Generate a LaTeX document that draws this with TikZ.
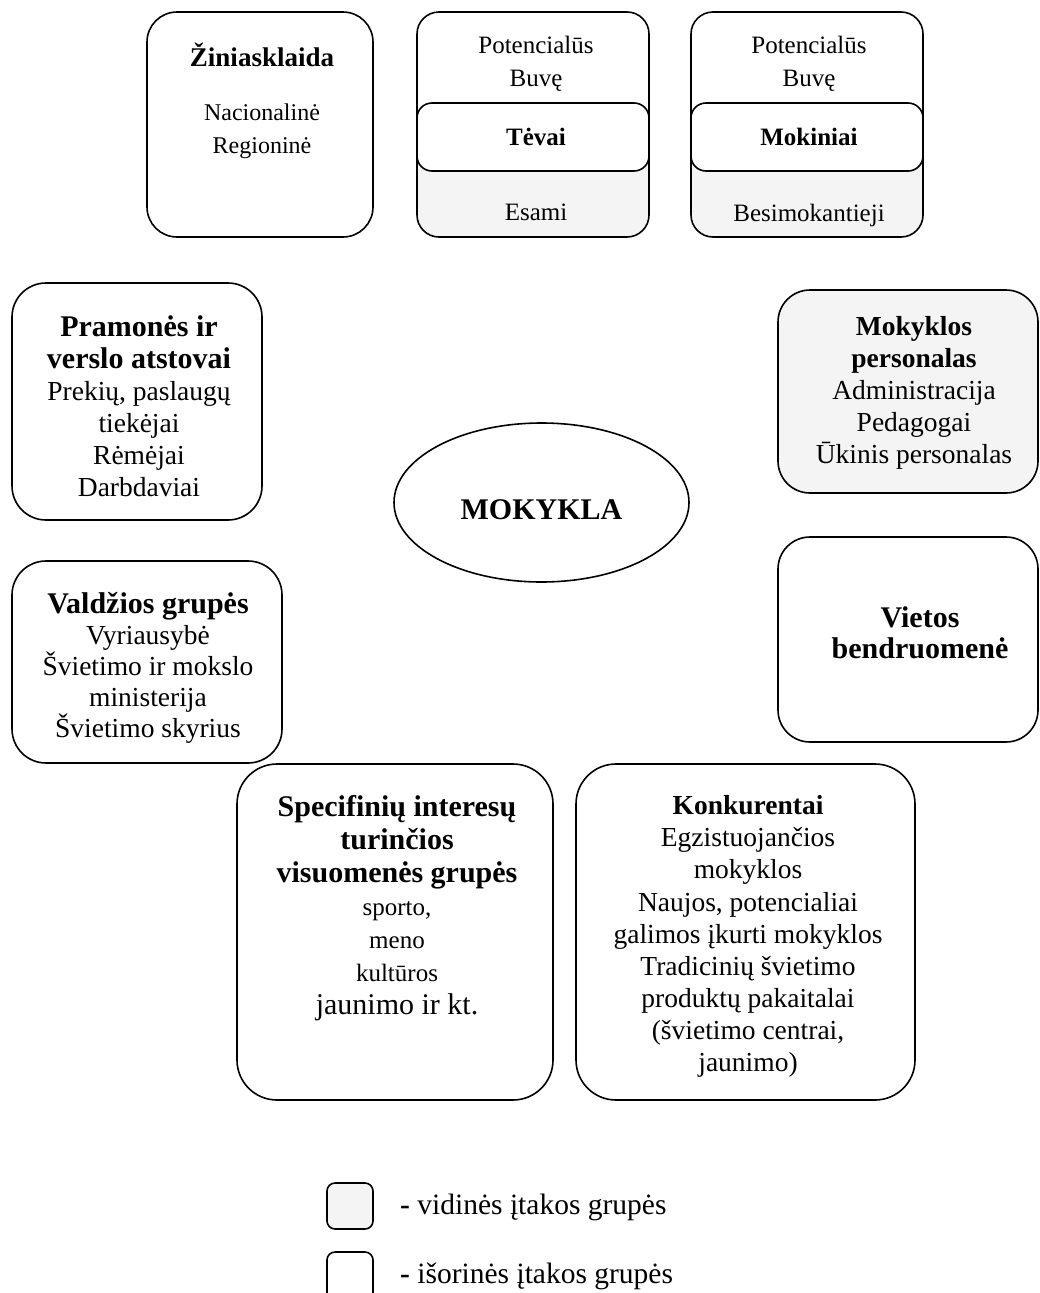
\documentclass[tikz,border=0pt]{standalone}
\usepackage{fontspec}
\setmainfont{Liberation Serif}
\usetikzlibrary{shapes.geometric}
\setlength{\lineskiplimit}{-100pt}
\newcommand\szf[2]{\fontsize{#1}{#2}\selectfont}
\definecolor{innerfill}{RGB}{244,244,244}

\begin{document}
\begin{tikzpicture}[x=1pt,y=-1pt,
  box/.style={draw, line width=1.6pt, rectangle, inner sep=0pt, outer sep=0pt},
  ingroup/.style={box, fill=innerfill},
  lbl/.style={align=center, inner sep=0pt, font=\szf{27.5}{32}}]
\useasboundingbox (0,0) rectangle (1039,1293);
\clip (0,0) rectangle (1039,1293);

% --- media
\node[box, minimum width=226pt, minimum height=225pt, rounded corners=30pt] (media) at (260,124.5) {};
\node[lbl, font=\szf{27}{32}] (mediaTitle) at (262,55) {\bfseries Žiniasklaida};
\node[lbl, font=\szf{24}{33}] (mediaBody) at (262,131.5) {Nacionalinė\\Regioninė};

% --- parents (white upper part, grey lower part)
\fill[innerfill, rounded corners=22pt] (417,12) rectangle (649,237);
\begin{scope}
  \clip (417,12) rectangle (649,137);
  \fill[white, rounded corners=22pt] (417,12) rectangle (649,237);
\end{scope}
\node[box, fill=white, minimum width=232pt, minimum height=68pt, rounded corners=15pt] (parentsMid) at (533,137) {};
\node[box, minimum width=232pt, minimum height=225pt, rounded corners=22pt] (parents) at (533,124.5) {};
\node[lbl, font=\szf{25}{33}] (parentsTop) at (536,63.5) {Potencialūs\\Buvę};
\node[lbl, font=\bfseries\szf{25}{33}] (parentsRole) at (536,137) {Tėvai};
\node[lbl, font=\szf{25}{33}] (parentsNow) at (536,212) {Esami};

% --- pupils (white upper part, grey lower part)
\fill[innerfill, rounded corners=22pt] (691,12) rectangle (923,237);
\begin{scope}
  \clip (691,12) rectangle (923,137);
  \fill[white, rounded corners=22pt] (691,12) rectangle (923,237);
\end{scope}
\node[box, fill=white, minimum width=232pt, minimum height=68pt, rounded corners=15pt] (pupilsMid) at (807,137) {};
\node[box, minimum width=232pt, minimum height=225pt, rounded corners=22pt] (pupils) at (807,124.5) {};
\node[lbl, font=\szf{25}{33}] (pupilsTop) at (809,63.5) {Potencialūs\\Buvę};
\node[lbl, font=\bfseries\szf{25}{33}] (pupilsRole) at (809,137) {Mokiniai};
\node[lbl, font=\szf{25}{33}] (pupilsNow) at (809,215) {Besimokantieji};

% --- industry and business
\node[box, minimum width=250pt, minimum height=237pt, rounded corners=34pt] (industry) at (137,401.5) {};
\node[lbl] (industryText) at (139,406.5) {\bfseries\szf{30}{32}Pramonės ir\\
  \bfseries\szf{30}{32}verslo atstovai\\ Prekių, paslaugų\\ tiekėjai\\ Rėmėjai\\ Darbdaviai};

% --- school staff
\node[ingroup, minimum width=260pt, minimum height=203pt, rounded corners=32pt] (staff) at (908,391.5) {};
\node[lbl] (staffText) at (914,392.5) {\bfseries Mokyklos\\ \bfseries personalas\\
  Administracija\\ Pedagogai\\ Ūkinis personalas};

% --- school
\node[draw, line width=1.6pt, ellipse, inner sep=0pt, minimum width=295pt, minimum height=159pt] (school) at (541.5,502.5) {};
\node[lbl, font=\bfseries\szf{30}{32}] (schoolText) at (541.5,510) {MOKYKLA};

% --- government
\node[box, minimum width=270pt, minimum height=202pt, rounded corners=34pt] (gov) at (147,662) {};
\node[lbl, font=\szf{27.5}{31}] (govText) at (148,667.5) {\bfseries\szf{30}{31}Valdžios grupės\\
  Vyriausybė\\ Švietimo ir mokslo\\ ministerija\\ Švietimo skyrius};

% --- local community
\node[box, minimum width=260pt, minimum height=205pt, rounded corners=32pt] (community) at (908,639.5) {};
\node[lbl, font=\bfseries\szf{30}{31}] (communityText) at (920,632.5) {Vietos\\bendruomenė};

% --- special interest groups
\node[box, minimum width=316pt, minimum height=336pt, rounded corners=40pt] (interest) at (395,932) {};
\node[lbl, font=\szf{25}{33}] (interestText) at (397,908.5) {\bfseries\szf{30}{33}Specifinių interesų\\
  \bfseries\szf{30}{33}turinčios\\ \bfseries\szf{30}{33}visuomenės grupės\\
  sporto,\\ meno\\ kultūros\\ \szf{30}{33}jaunimo ir kt.};

% --- competitors
\node[box, minimum width=339pt, minimum height=336pt, rounded corners=40pt] (rivals) at (745.5,932) {};
\node[lbl, font=\szf{27.5}{32.1}] (rivalsText) at (748,936.5) {\bfseries Konkurentai\\
  Egzistuojančios\\ mokyklos\\ Naujos, potencialiai\\ galimos įkurti mokyklos\\
  Tradicinių švietimo\\ produktų pakaitalai\\ (švietimo centrai,\\ jaunimo)};

% --- legend
\node[ingroup, minimum width=46pt, minimum height=46pt, rounded corners=8pt] (keyInner) at (350,1206) {};
\node[box, fill=white, minimum width=46pt, minimum height=56pt, rounded corners=8pt] (keyOuter) at (350,1280) {};
\node[lbl, anchor=west, font=\szf{29.5}{32}] (keyInnerText) at (400,1207) {\textbf{-} vidinės įtakos grupės};
\node[lbl, anchor=west, font=\szf{29.5}{32}] (keyOuterText) at (400,1276) {\textbf{-} išorinės įtakos grupės};
\end{tikzpicture}
\end{document}
